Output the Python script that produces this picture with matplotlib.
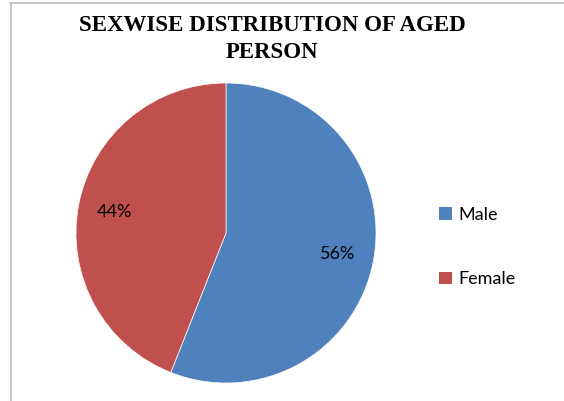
import matplotlib
matplotlib.use("Agg")
import matplotlib.pyplot as plt
from matplotlib.lines import Line2D
from matplotlib.patches import Patch

categories = ["Male", "Female"]
values = [56, 44]
colors = ["#4F81BD", "#C0504D"]
title = "SEXWISE DISTRIBUTION OF AGED\nPERSON"

W, H = 564, 401
fig = plt.figure(figsize=(W / 100, H / 100), dpi=100)

# chart border (top and left edges visible)
fig.add_artist(Line2D([10 / W, 1], [1 - 3 / H, 1 - 3 / H], color="#BFBFBF", lw=1.2, transform=fig.transFigure))
fig.add_artist(Line2D([11 / W, 11 / W], [0, 1 - 3 / H], color="#BFBFBF", lw=1.2, transform=fig.transFigure))

cx, cy, r = 226, 233, 150
ax = fig.add_axes([(cx - r) / W, (H - cy - r) / H, 2 * r / W, 2 * r / H])
wedges, texts, autotexts = ax.pie(values, colors=colors, startangle=90, counterclock=False,
                                  autopct="%1.0f%%", pctdistance=0.76, radius=1,
                                  textprops=dict(fontsize=13, family=["Lato", "DejaVu Sans"], color="black"),
                                  wedgeprops=dict(linewidth=0.5, edgecolor="white"))
ax.set_xlim(-1, 1)
ax.set_ylim(-1, 1)
ax.set_aspect("equal")
ax.axis("off")

fig.text(272 / W, 1 - 15 / H, title, ha="center", va="top", fontsize=16.5, fontweight="bold",
         family="Liberation Serif", linespacing=1.35)

handles = [Patch(facecolor=c, edgecolor="none") for c in colors]
fig.legend(handles, categories, loc="center left", bbox_to_anchor=(423 / W, 1 - 247 / H),
           frameon=False, prop=dict(family=["Lato", "DejaVu Sans"], size=13),
           handlelength=0.7, handleheight=0.7, handletextpad=0.35, labelspacing=2.7)

fig.savefig("out.png", dpi=100)
